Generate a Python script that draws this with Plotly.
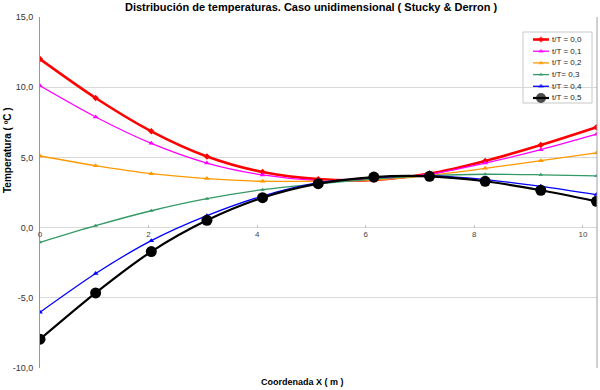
import plotly.graph_objects as go

# ---- data ----
x_coord = [0, 1.025, 2.05, 3.075, 4.1, 5.125, 6.15, 7.175, 8.2, 9.225, 10.25]
t00 = [12.0, 9.23, 6.86, 5.07, 3.96, 3.45, 3.40, 3.85, 4.75, 5.88, 7.15]
t01 = [10.1, 7.88, 6.0, 4.6, 3.75, 3.35, 3.40, 3.80, 4.60, 5.55, 6.65]
t02 = [5.1, 4.41, 3.84, 3.49, 3.3, 3.3, 3.38, 3.72, 4.22, 4.77, 5.32]
t03 = [-1.05, 0.14, 1.2, 2.06, 2.7, 3.12, 3.45, 3.7, 3.8, 3.76, 3.68]
t04 = [-6.03, -3.27, -0.93, 0.85, 2.25, 3.2, 3.56, 3.7, 3.42, 2.94, 2.35]
t05 = [-7.95, -4.65, -1.71, 0.52, 2.13, 3.13, 3.6, 3.65, 3.3, 2.66, 1.87]

series_names = ["t/T = 0,0", "t/T = 0,1", "t/T = 0,2", "t/T= 0,3", "t/T = 0,4", "t/T = 0,5"]
series_vals = [t00, t01, t02, t03, t04, t05]

y_tickvals = [15, 10, 5, 0, -5, -10]
y_ticktext = ["15,0", "10,0", "5,0", "0,0", "-5,0", "-10,0"]
x_tickvals = [0, 2, 4, 6, 8, 10]

# ---- styles ----
colors = ["#ff0000", "#ff00ff", "#ff9900", "#339966", "#0000ff", "#000000"]
widths = [2.6, 1.3, 1.3, 1.3, 1.3, 2.2]
symbols = ["diamond", "triangle-up", "triangle-up", "triangle-up", "triangle-up", "circle"]
msizes = [5, 5, 5, 4, 5, 11]

FONT = "Liberation Sans, Arial, sans-serif"
W, H = 600, 390
ML, MR, MT, MB = 40, 3, 17, 22
PW, PH = W - ML - MR, H - MT - MB

fig = go.Figure()
for name, vals, c, w, s, ms in zip(series_names, series_vals, colors, widths, symbols, msizes):
    fig.add_trace(go.Scatter(
        x=x_coord, y=vals, mode="lines+markers", name=name,
        line=dict(color=c, width=w, shape="spline", smoothing=0.8),
        marker=dict(color=c, size=ms, symbol=s, line=dict(width=0)),
        showlegend=False,
    ))

def px_to_paper_x(px):
    return (px - ML) / PW

def px_to_paper_y(py):
    return (MT + PH - py) / PH

# ---- custom compact legend ----
lg_left, lg_right, lg_top, lg_bottom = 523, 592, 32, 103
fig.add_shape(type="rect", xref="paper", yref="paper",
              x0=px_to_paper_x(lg_left), x1=px_to_paper_x(lg_right),
              y0=px_to_paper_y(lg_bottom), y1=px_to_paper_y(lg_top),
              line=dict(color="#c8c8c8", width=1), fillcolor="white", layer="between")
row0, row_h = 39.5, 11.7
for i, (name, c, w, s, ms) in enumerate(zip(series_names, colors, widths, symbols, msizes)):
    py = row0 + i * row_h
    fig.add_trace(go.Scatter(
        x=[px_to_paper_x(533), px_to_paper_x(541), px_to_paper_x(549)],
        y=[px_to_paper_y(py)] * 3, xaxis="x2", yaxis="y2",
        mode="lines+markers", showlegend=False, hoverinfo="skip",
        line=dict(color=c, width=w),
        marker=dict(color=c, size=[0, min(ms, 10), 0], symbol=s, line=dict(width=0)),
        cliponaxis=False,
    ))
    fig.add_annotation(x=px_to_paper_x(550), y=px_to_paper_y(py), xref="paper", yref="paper",
                       text=name, showarrow=False, xanchor="left", yanchor="middle",
                       font=dict(family=FONT, size=8, color="#222"))

# ---- titles ----
fig.add_annotation(x=px_to_paper_x(311), y=px_to_paper_y(7), xref="paper", yref="paper",
                   text="<b>Distribución de temperaturas. Caso unidimensional ( Stucky &amp; Derron )</b>",
                   showarrow=False, xanchor="center", yanchor="middle",
                   font=dict(family=FONT, size=11, color="#000"))
fig.add_annotation(x=px_to_paper_x(302), y=px_to_paper_y(382), xref="paper", yref="paper",
                   text="<b>Coordenada X ( m )</b>", showarrow=False,
                   xanchor="center", yanchor="middle",
                   font=dict(family=FONT, size=9, color="#000"))
fig.add_annotation(x=px_to_paper_x(8), y=px_to_paper_y(150), xref="paper", yref="paper",
                   text="<b>Temperatura ( ºC )</b>", showarrow=False, textangle=-90,
                   xanchor="center", yanchor="middle",
                   font=dict(family=FONT, size=10, color="#000"))

# right border
fig.add_shape(type="line", xref="paper", yref="paper", x0=1, x1=1, y0=0, y1=1,
              line=dict(color="#a0a0a0", width=1))

fig.update_layout(
    width=W, height=H,
    margin=dict(l=ML, r=MR, t=MT, b=MB),
    paper_bgcolor="white", plot_bgcolor="white",
    showlegend=False,
    xaxis=dict(range=[0, 10.26], tickvals=x_tickvals, ticktext=[str(v) for v in x_tickvals],
               anchor="free", position=0.4, showgrid=False, zeroline=False, showline=False,
               ticks="inside", ticklen=3, tickcolor="#c0c0c0",
               tickfont=dict(family=FONT, size=8, color="#444")),
    yaxis=dict(range=[-10, 15], tickvals=y_tickvals, ticktext=y_ticktext,
               showgrid=True, gridcolor="#d9d9d9", gridwidth=1, zeroline=False,
               showline=True, linecolor="#999999", linewidth=1,
               ticks="", ticklabelstandoff=4, automargin=False,
               tickfont=dict(family=FONT, size=9, color="#333")),
    xaxis2=dict(range=[0, 1], overlaying="x", visible=False, fixedrange=True, anchor="y2"),
    yaxis2=dict(range=[0, 1], overlaying="y", visible=False, fixedrange=True, anchor="x2"),
)

fig.write_html("out.html", config={"displayModeBar": False},
               post_script="document.body.style.margin='0';document.body.style.overflow='hidden';")
